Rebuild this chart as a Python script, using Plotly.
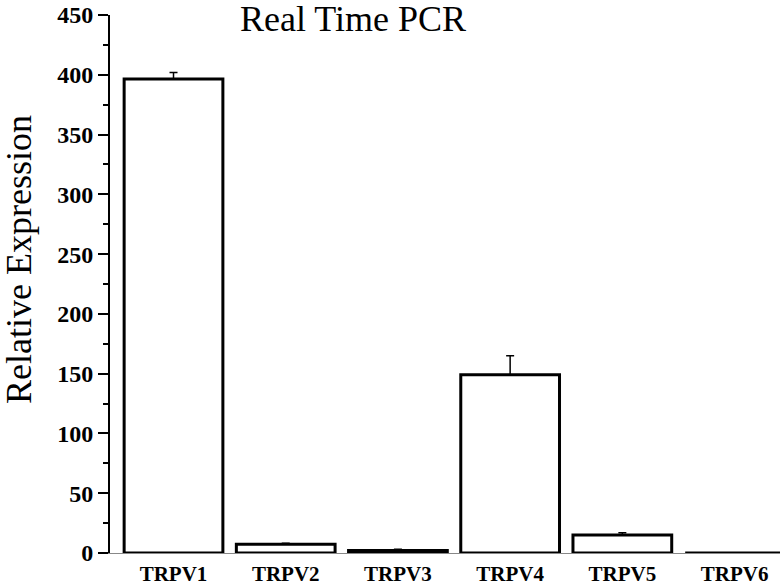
import plotly.graph_objects as go

categories = ["TRPV1", "TRPV2", "TRPV3", "TRPV4", "TRPV5", "TRPV6"]
values = [396.5, 7.3, 2.0, 149.0, 15.0, 0.0]
errors_up = [5.5, 0.8, 1.2, 16.0, 2.0, 0.0]
y_ticks = [0, 50, 100, 150, 200, 250, 300, 350, 400, 450]

SERIF = "Liberation Serif, Times New Roman, serif"

fig = go.Figure()
fig.add_trace(go.Bar(
    x=categories,
    y=values,
    marker=dict(color="white", line=dict(color="black", width=3)),
    error_y=dict(type="data", symmetric=False, array=errors_up,
                 arrayminus=[0] * len(values), color="black",
                 thickness=1.5, width=4),
    showlegend=False,
))

fig.update_layout(
    width=784, height=588,
    paper_bgcolor="white", plot_bgcolor="white",
    margin=dict(l=110, r=4, t=15, b=35, autoexpand=False),
    bargap=0.12,
    title=dict(text="Real Time PCR", x=353 / 784, xanchor="center",
               y=1 - 18 / 588, yanchor="middle", yref="container",
               font=dict(family=SERIF, size=36, color="black")),
    xaxis=dict(
        range=[-0.566, 5.405], automargin=False,
        showline=True, linecolor="#888888", linewidth=1,
        ticks="", showgrid=False, zeroline=False,
        ticklabelstandoff=2,
        tickfont=dict(family=SERIF, size=21, color="black", weight="bold"),
    ),
    yaxis=dict(
        range=[0, 450], automargin=False,
        tickvals=y_ticks,
        showline=True, linecolor="black", linewidth=2,
        ticks="outside", ticklen=10, tickwidth=2, tickcolor="black",
        minor=dict(ticks="outside", ticklen=5, tickwidth=2, tickcolor="black", dtick=25),
        showgrid=False, zeroline=False,
        tickfont=dict(family=SERIF, size=24, color="black", weight="bold"),
    ),
    annotations=[dict(
        text="Relative Expression", textangle=-90,
        xref="paper", yref="paper",
        x=(19 - 110) / 670, y=(553 - 260) / 538,
        xanchor="center", yanchor="middle", showarrow=False,
        font=dict(family=SERIF, size=36, color="black"),
    )],
)

fig.write_html("out.html", config={"displayModeBar": False},
               post_script="document.body.style.margin='0';document.body.style.padding='0';")
